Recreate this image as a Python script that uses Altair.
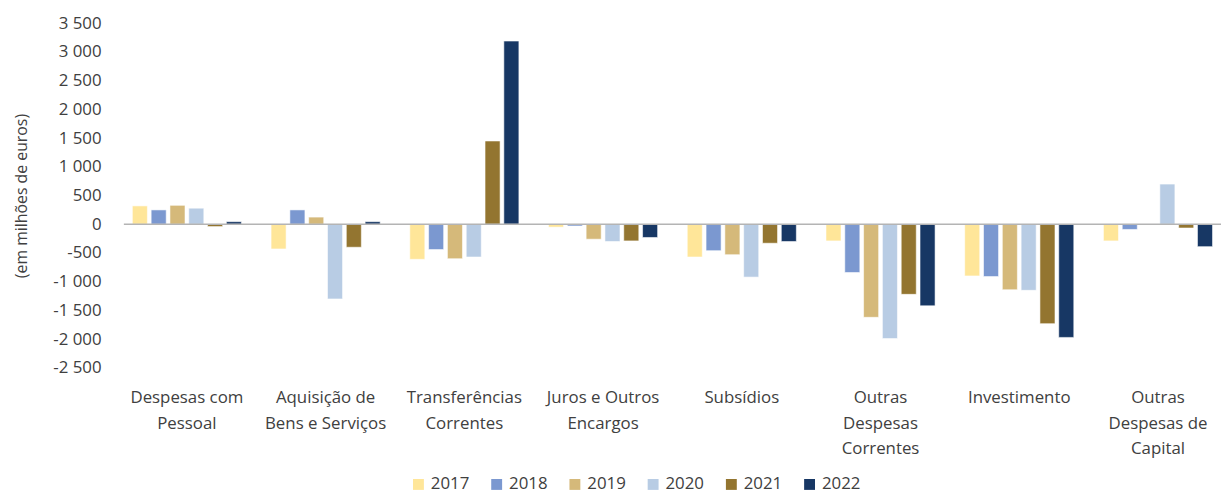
import altair as alt
import pandas as pd

categories = [
    "Despesas com|Pessoal",
    "Aquisição de|Bens e Serviços",
    "Transferências|Correntes",
    "Juros e Outros|Encargos",
    "Subsídios",
    "Outras|Despesas|Correntes",
    "Investimento",
    "Outras|Despesas de|Capital",
]
years = ["2017", "2018", "2019", "2020", "2021", "2022"]
v2017 = [320, -430, -610, -50, -570, -290, -900, -290]
v2018 = [250, 250, -440, -30, -460, -840, -910, -90]
v2019 = [330, 125, -600, -260, -530, -1620, -1140, 0]
v2020 = [280, -1300, -570, -300, -920, -1990, -1150, 700]
v2021 = [-40, -400, 1450, -290, -330, -1220, -1730, -65]
v2022 = [45, 45, 3190, -230, -300, -1420, -1970, -390]
series = [v2017, v2018, v2019, v2020, v2021, v2022]
colors = ["#FFE699", "#7B98D0", "#D5B97A", "#B8CCE4", "#937530", "#173764"]
y_ticks = [-2500, -2000, -1500, -1000, -500, 0, 500, 1000, 1500, 2000, 2500, 3000, 3500]

rows = []
for yr, vals in zip(years, series):
    for c, v in zip(categories, vals):
        rows.append({"cat": c, "year": yr, "value": v})
df = pd.DataFrame(rows)

FONT = "Open Sans"
TXT = "#404040"

yscale = alt.Scale(domain=[-2500, 3500], nice=False, zero=False)
yaxis = alt.Axis(title="(em milhões de euros)", values=y_ticks, format=",.0f",
                 grid=False, domain=False, ticks=False,
                 labelOverlap=False, labelBound=False, labelFlush=False,
                 labelFontSize=17, labelFont=FONT, labelColor=TXT, labelPadding=23,
                 titleFontSize=16, titleFont=FONT, titleColor=TXT,
                 titleFontWeight="normal", titlePadding=24)

bars = alt.Chart(df).mark_bar(stroke="white", strokeWidth=0.8, strokeOpacity=0.7).encode(
    x=alt.X("cat:N", sort=categories,
            scale=alt.Scale(paddingInner=0.2, paddingOuter=0.0544),
            axis=alt.Axis(title=None, labelAngle=0, domain=False, ticks=False,
                          labelExpr="split(datum.label, '|')",
                          labelFontSize=17, labelFont=FONT, labelColor=TXT,
                          labelPadding=22, labelLineHeight=26, labelLimit=200)),
    xOffset=alt.XOffset("year:N", sort=years,
                        scale=alt.Scale(paddingInner=0.2, paddingOuter=0.05)),
    y=alt.Y("value:Q", scale=yscale, axis=yaxis),
    color=alt.Color("year:N", sort=years,
                    scale=alt.Scale(domain=years, range=colors),
                    legend=alt.Legend(title=None, orient="none", direction="horizontal",
                                      columns=6, legendX=289, legendY=457,
                                      symbolType="square", symbolSize=121,
                                      symbolStrokeWidth=0, labelFontSize=17,
                                      labelFont=FONT, labelColor=TXT,
                                      labelOffset=4, columnPadding=19)),
)

zero = alt.Chart(pd.DataFrame({"value": [0]})).mark_rule(color="#b4b4b4", strokeWidth=1.5).encode(
    y=alt.Y("value:Q", scale=yscale, axis=yaxis)
)

chart = alt.layer(bars, zero).properties(
    width=1108, height=348,
    padding={"left": 5, "top": 4, "right": 0, "bottom": 0},
).configure_view(stroke=None).configure_axisY(labelOverlap=False)

chart.save("out.html", embed_options={
    "renderer": "svg", "actions": False,
    "formatLocale": {"decimal": ",", "thousands": " ", "grouping": [3],
                     "currency": ["", " €"], "minus": "-"},
})
